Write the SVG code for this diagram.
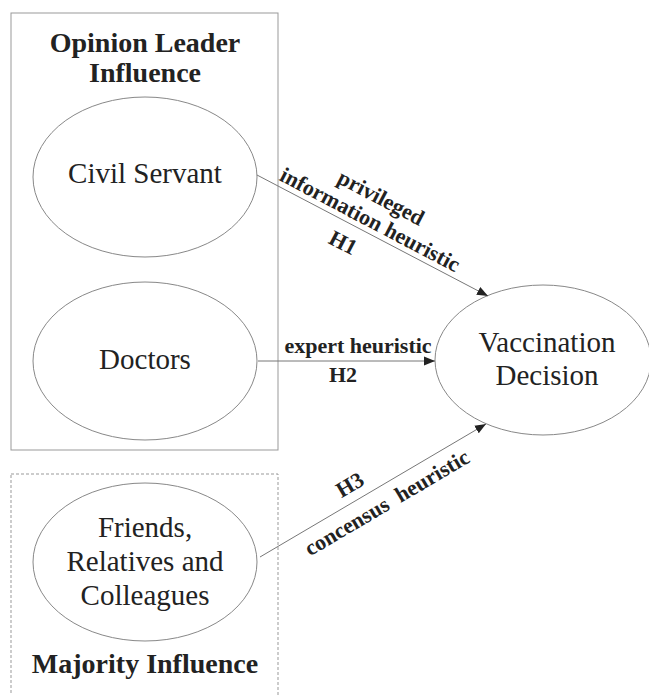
<svg xmlns="http://www.w3.org/2000/svg" width="649" height="695" viewBox="0 0 649 695">
<defs>
<style>
.box{fill:none;stroke:#999;stroke-width:1}
.dash{fill:none;stroke:#999;stroke-width:1;stroke-dasharray:3,2}
.node{fill:#fff;stroke:#888;stroke-width:1}
.t{font-family:"Liberation Serif","Times New Roman",serif;font-size:29px;fill:#222;text-anchor:middle}
.h{font-family:"Liberation Serif","Times New Roman",serif;font-size:28px;font-weight:bold;fill:#222;text-anchor:middle}
.l{font-family:"Liberation Serif","Times New Roman",serif;font-size:22px;font-weight:bold;fill:#222;text-anchor:middle}
.c{stroke:#777;stroke-width:1;fill:none;marker-end:url(#arr)}
</style>
<marker id="arr" viewBox="0 0 10 10" refX="10" refY="5" markerWidth="11" markerHeight="11" markerUnits="userSpaceOnUse" orient="auto">
<path d="M0,1 L10,5 L0,9 z" fill="#222"/>
</marker>
</defs>
<rect width="649" height="695" fill="#fff"/>
<g id="group-opinion">
<rect class="box" x="11" y="13" width="267" height="437"/>
<text class="h" x="145" y="52">Opinion Leader</text>
<text class="h" x="145" y="82">Influence</text>
</g>
<g id="group-majority">
<rect class="dash" x="11" y="474" width="267" height="230"/>
<text class="h" x="145" y="673">Majority Influence</text>
</g>
<g id="civil-servant">
<ellipse class="node" cx="145" cy="177" rx="112" ry="80"/>
<text class="t" x="145" y="183">Civil Servant</text>
</g>
<g id="doctors">
<ellipse class="node" cx="145" cy="361" rx="112" ry="79"/>
<text class="t" x="145" y="369">Doctors</text>
</g>
<g id="friends">
<ellipse class="node" cx="145" cy="562" rx="112" ry="79"/>
<text class="t" x="145" y="537">Friends,</text>
<text class="t" x="145" y="571">Relatives and</text>
<text class="t" x="145" y="605">Colleagues</text>
</g>
<g id="vaccination">
<ellipse class="node" cx="543" cy="360" rx="108" ry="75"/>
<text class="t" x="547" y="352">Vaccination</text>
<text class="t" x="547" y="385">Decision</text>
</g>
<g id="connectors">
<line class="c" x1="257" y1="175" x2="488" y2="296"/>
<line class="c" x1="258" y1="361" x2="435" y2="361"/>
<line class="c" x1="260" y1="557" x2="486" y2="424"/>
<text class="l" transform="translate(381,198) rotate(27.7)" y="7">privileged</text>
<text class="l" transform="translate(370,220) rotate(27.7)" y="7">information heuristic</text>
<text class="l" transform="translate(343,243) rotate(27.7)" y="7">H1</text>
<text class="l" x="358" y="353">expert heuristic</text>
<text class="l" x="343" y="382">H2</text>
<text class="l" transform="translate(350,485) rotate(-30.6)" y="7">H3</text>
<text class="l" transform="translate(387,503) rotate(-30.6)" y="7" xml:space="preserve">concensus  heuristic</text>
</g>
</svg>
